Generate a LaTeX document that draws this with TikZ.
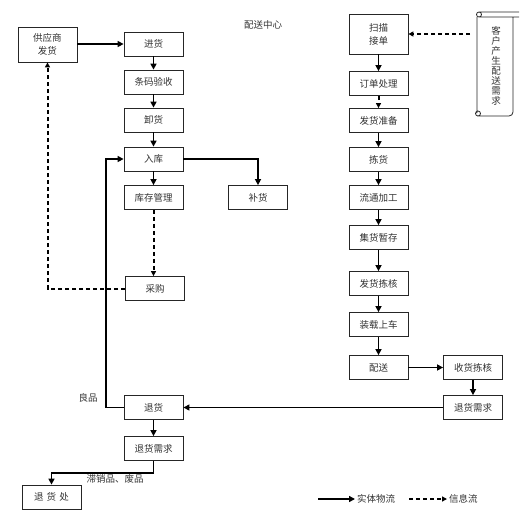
\documentclass[tikz,border=0pt]{standalone}
\usepackage{fontspec}
\newfontfamily\cjk{Noto Sans CJK SC}
\usetikzlibrary{arrows.meta}
\begin{document}
\begin{tikzpicture}[x=1pt,y=-1pt,
  every node/.style={font=\cjk\fontsize{9.5}{13}\selectfont, text=black!80},
  box/.style={draw=black!85, line width=0.8pt, minimum width=59pt, minimum height=24pt, inner sep=0pt, align=center, fill=white},
  flow/.style={line width=1.6pt, -{Triangle[length=6pt,width=6pt]}},
  info/.style={line width=2pt, dash pattern=on 4pt off 3pt, -{Triangle[length=5pt,width=5pt]}},
  thin flow/.style={line width=1.2pt, -{Triangle[length=6pt,width=6pt]}}]
\useasboundingbox (0,0) rectangle (527,531);
% left column
\node[box, minimum height=35pt] (sup) at (47.5,44.5) {供应商\\发货};
\node[box] (jh) at (153.5,44) {进货};
\node[box] (tm) at (153.5,82) {条码验收};
\node[box] (xh) at (153.5,120) {卸货};
\node[box] (rk) at (153.5,159) {入库};
\node[box] (kc) at (153.5,197.5) {库存管理};
\node[box] (bh) at (258,197.5) {补货};
\node[box] (cg) at (155,288.5) {采购};
\node[box] (th) at (153.5,407.5) {退货};
\node[box] (thxq) at (153.5,448.5) {退货需求};
\node[box] (thc) at (51.5,497) {退\,\,货\,\,处};
\node (title) at (263,25) {配送中心};
\node (lp) at (88,398) {良品};
\node (zx) at (115,479) {滞销品、废品};
% right column
\node[box, minimum height=40pt] (sm) at (378.5,34) {扫描\\接单};
\node[box] (dd) at (378.5,83.5) {订单处理};
\node[box] (fz) at (378.5,120.5) {发货准备};
\node[box] (jian) at (378.5,159.5) {拣货};
\node[box] (lt) at (378.5,197.5) {流通加工};
\node[box] (jc) at (378.5,237.5) {集货暂存};
\node[box] (fj) at (378.5,283.5) {发货拣核};
\node[box] (zz) at (378.5,324.5) {装载上车};
\node[box] (ps) at (378.5,367.5) {配送};
\node[box] (sh) at (473,367.5) {收货拣核};
\node[box] (thxq2) at (473,407.5) {退货需求};
% scroll
\draw[line width=0.8pt, black!85] (477,17) -- (477,113)
  (513,17) -- (513,112) arc[start angle=0,end angle=90,radius=4] -- (477,116)
  (479,12) -- (519,12) (479,17) -- (519,17)
  (479,14.5) circle[radius=2.5]
  (478,113.5) circle[radius=2.5];
\node[align=center, inner sep=0pt, font=\cjk\fontsize{9.5}{10}\selectfont] (req) at (496,66)
  {客\\户\\产\\生\\配\\送\\需\\求};
\coordinate (reqout) at (470,34);
% connectors
\draw[flow] (sup.east |- jh.west) -- (jh.west);
\draw[flow] (jh) -- (tm);
\draw[flow] (tm) -- (xh);
\draw[flow] (xh) -- (rk);
\draw[flow] (rk) -- (kc);
\draw[flow] (rk.east) -| (bh.north);
\draw[info] (kc.south) -- (kc.south |- cg.north);
\draw[info] (cg.west) -| (sup.south);
\coordinate (lbend) at (106,407.5);
\draw[flow] (th.west) -- (lbend) |- (rk.west);
\draw[flow] (th) -- (thxq);
\draw[flow] (thxq.south) -- ([yshift=-12pt]thxq.south) -| (thc.north);
\draw[info] (reqout) -- (sm.east);
\draw[flow] (sm) -- (dd);
\draw[info] (dd) -- (fz);
\draw[flow] (fz) -- (jian);
\draw[flow] (jian) -- (lt);
\draw[flow] (lt) -- (jc);
\draw[flow] (jc) -- (fj);
\draw[flow] (fj) -- (zz);
\draw[flow] (zz) -- (ps);
\draw[flow] (ps) -- (sh);
\draw[flow] (sh) -- (thxq2);
\draw[thin flow] (thxq2.west) -- (th.east);
% legend
\coordinate (la) at (318,499);
\coordinate (lb) at (355,499);
\coordinate (lc) at (409,499);
\coordinate (ld) at (447,499);
\draw[flow] (la) -- (lb);
\node[anchor=west, inner sep=1pt] (lt1) at (356,499) {实体物流};
\draw[info] (lc) -- (ld);
\node[anchor=west, inner sep=1pt] (lt2) at (448,499) {信息流};
\end{tikzpicture}
\end{document}
